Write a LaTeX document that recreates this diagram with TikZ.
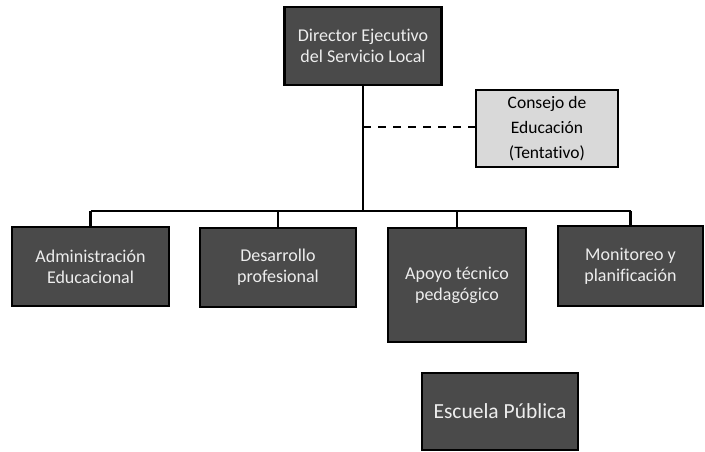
\documentclass[tikz,border=0pt]{standalone}
\usepackage{fontspec}
\setmainfont[Ligatures={NoCommon}]{Carlito}
\definecolor{boxdark}{HTML}{4A4A4A}
\definecolor{boxlight}{HTML}{D9D9D9}
\definecolor{txtlight}{HTML}{EDEDED}
\begin{document}
\begin{tikzpicture}[x=1pt,y=-1pt,
  darkbox/.style={draw=black,line width=2.2pt,fill=boxdark,text=txtlight,align=center,
    inner sep=0pt,font=\fontsize{18}{21}\selectfont},
  lightbox/.style={draw=black,line width=2pt,fill=boxlight,text=black,align=center,
    inner sep=0pt,font=\fontsize{17.5}{25}\selectfont},
  conn/.style={draw=black,line width=2.2pt}]
\useasboundingbox[fill=white] (0,0) rectangle (705,452);
\node[darkbox,minimum width=157pt,minimum height=78pt] (dir) at (363,46) {Director Ejecutivo\\del Servicio Local};
\node[lightbox,minimum width=142pt,minimum height=77pt] (con) at (547,128.5) {Consejo de\\Educación\\(Tentativo)};
\node[darkbox,minimum width=157pt,minimum height=79pt] (adm) at (90.5,266.5) {Administración\\Educacional};
\node[darkbox,minimum width=156pt,minimum height=79pt] (des) at (278,267.5) {Desarrollo\\profesional};
\node[darkbox,minimum width=138pt,minimum height=114pt] (apo) at (457,285) {Apoyo técnico\\pedagógico};
\node[darkbox,minimum width=145pt,minimum height=80pt] (mon) at (630.5,266) {Monitoreo y\\planificación};
\node[darkbox,minimum width=156pt,minimum height=77pt,font=\fontsize{21.5}{25}\selectfont] (esc) at (500,411.5) {Escuela Pública};
\coordinate (bus) at (363,211);
\draw[conn] (dir.south) -- (dir.south |- bus);
\draw[conn] (adm.north |- bus) -- (mon.north |- bus);
\draw[conn] (adm.north) -- (adm.north |- bus);
\draw[conn] (des.north) -- (des.north |- bus);
\draw[conn] (apo.north) -- (apo.north |- bus);
\draw[conn] (mon.north) -- (mon.north |- bus);
\draw[conn,dash pattern=on 8pt off 7pt] (dir.south |- 0,127) -- (con.west |- 0,127);
\end{tikzpicture}
\end{document}
